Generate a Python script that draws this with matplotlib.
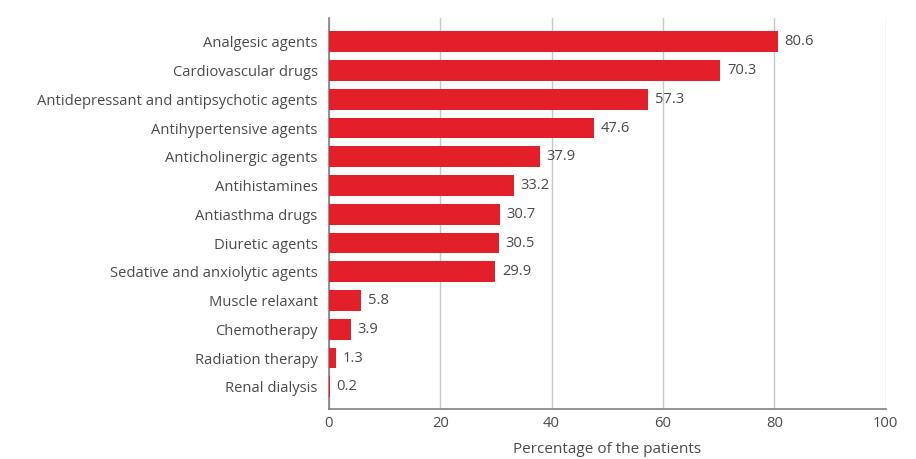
import matplotlib
matplotlib.use("Agg")
import matplotlib.pyplot as plt

categories = [
    "Analgesic agents",
    "Cardiovascular drugs",
    "Antidepressant and antipsychotic agents",
    "Antihypertensive agents",
    "Anticholinergic agents",
    "Antihistamines",
    "Antiasthma drugs",
    "Diuretic agents",
    "Sedative and anxiolytic agents",
    "Muscle relaxant",
    "Chemotherapy",
    "Radiation therapy",
    "Renal dialysis",
]
percentages = [80.6, 70.3, 57.3, 47.6, 37.9, 33.2, 30.7, 30.5, 29.9, 5.8, 3.9, 1.3, 0.2]
x_ticks = [0, 20, 40, 60, 80, 100]

RED = "#e3202a"
TEXT = "#4a4a4f"
FS = 10.6

plt.rcParams["font.family"] = ["Open Sans", "DejaVu Sans"]

fig = plt.figure(figsize=(9.16, 4.59), dpi=100)
ax = fig.add_axes([0.359, 0.109, 0.608, 0.852])

y = list(range(len(categories)))
ax.barh(y, percentages, height=0.72, color=RED, zorder=3)
for yi, v in zip(y, percentages):
    ax.text(v + 1.2, yi, f"{v:.1f}", va="center", ha="left",
            fontsize=FS, color=TEXT)

ax.set_ylim(len(categories) - 1 + 0.77, -0.83)
ax.set_xlim(0, 100)
ax.set_yticks(y)
ax.set_yticklabels(categories, fontsize=FS, color=TEXT)
ax.set_xticks(x_ticks)
ax.set_xticklabels([str(t) for t in x_ticks], fontsize=FS, color=TEXT)
ax.tick_params(axis="y", length=0, pad=8)
ax.tick_params(axis="x", length=0, pad=5)

ax.grid(axis="x", color="#c8c8c8", linewidth=1, zorder=0)
for side in ("top", "right"):
    ax.spines[side].set_visible(False)
ax.spines["left"].set_color("#808080")
ax.spines["bottom"].set_color("#808080")
ax.spines["left"].set_linewidth(1.2)
ax.spines["bottom"].set_linewidth(1.2)

ax.set_xlabel("Percentage of the patients", fontsize=11, color=TEXT, labelpad=8)

fig.savefig("out.png", dpi=100)
